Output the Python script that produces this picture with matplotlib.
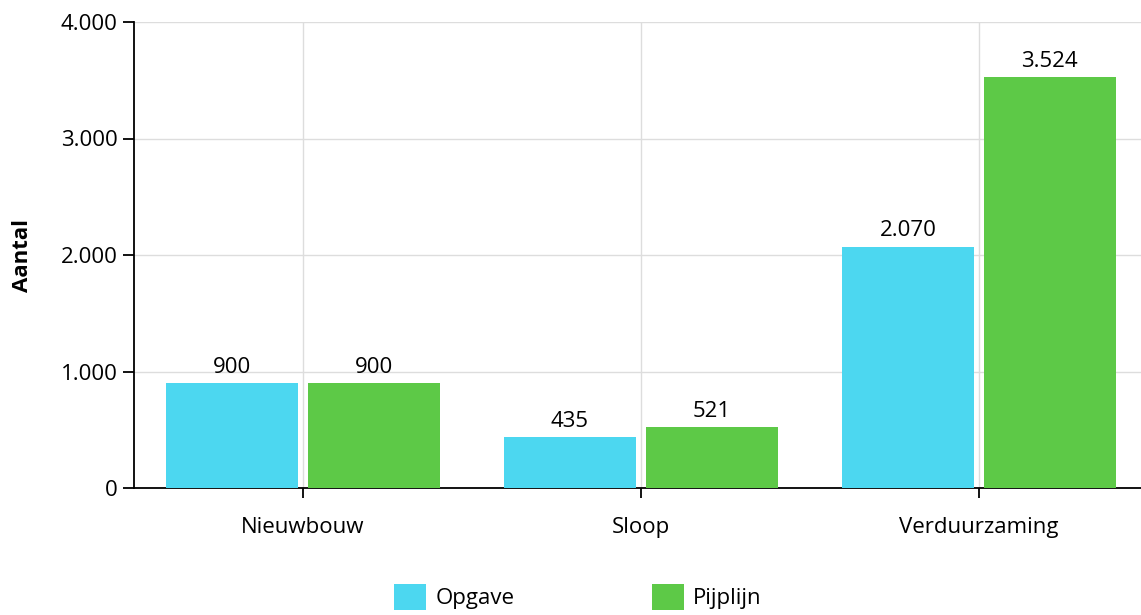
import matplotlib.pyplot as plt
from matplotlib.patches import Patch
from matplotlib.ticker import FuncFormatter
import numpy as np

# data
categories = ["Nieuwbouw", "Sloop", "Verduurzaming"]
opgave = [900, 435, 2070]
pijplijn = [900, 521, 3524]
series_names = ["Opgave", "Pijplijn"]

blue = "#4cd7f0"
green = "#5dc947"

plt.rcParams['font.family'] = ['Open Sans', 'DejaVu Sans']
fs = 16

fig = plt.figure(figsize=(11.41, 6.15), dpi=100)
ax = fig.add_axes([134 / 1141, 127 / 615, 1 - 134 / 1141, 466 / 615])

x = np.arange(len(categories))
w = 0.39
off = 0.21


def fmt(v):
    return f"{int(v):,}".replace(",", ".")


b1 = ax.bar(x - off, opgave, width=w, color=blue, zorder=3)
b2 = ax.bar(x + off, pijplijn, width=w, color=green, zorder=3)

for bars, vals in ((b1, opgave), (b2, pijplijn)):
    for r, v in zip(bars, vals):
        ax.annotate(fmt(v), (r.get_x() + r.get_width() / 2, v),
                    xytext=(0, 4), textcoords="offset points",
                    ha="center", va="bottom", fontsize=fs)

ax.set_xlim(-0.5, 2.48)
ax.set_ylim(0, 4000)
ax.set_yticks([0, 1000, 2000, 3000, 4000])
ax.yaxis.set_major_formatter(FuncFormatter(lambda v, p: fmt(v)))
ax.set_xticks(x)
ax.set_xticklabels(categories)
ax.grid(True, color="#dddddd", linewidth=1, zorder=0)
ax.set_axisbelow(True)

for s in ("top", "right"):
    ax.spines[s].set_visible(False)
for s in ("left", "bottom"):
    ax.spines[s].set_color("black")
    ax.spines[s].set_linewidth(1.3)

ax.tick_params(axis="y", length=8, width=1.3, labelsize=fs, pad=4)
ax.tick_params(axis="x", length=7, width=1.3, labelsize=fs, pad=14)
ax.set_ylabel("Aantal", fontsize=fs, fontweight="bold", labelpad=20)

handles = [Patch(facecolor=blue, label=series_names[0]),
           Patch(facecolor=green, label=series_names[1])]
fig.legend(handles=handles, loc="upper center", bbox_to_anchor=(578 / 1141, 31 / 615),
           ncol=2, frameon=False, fontsize=fs, handlelength=1.45, handleheight=1.4,
           handletextpad=0.4, columnspacing=6.2, borderaxespad=0, borderpad=0)

fig.savefig("out.png", dpi=100)
